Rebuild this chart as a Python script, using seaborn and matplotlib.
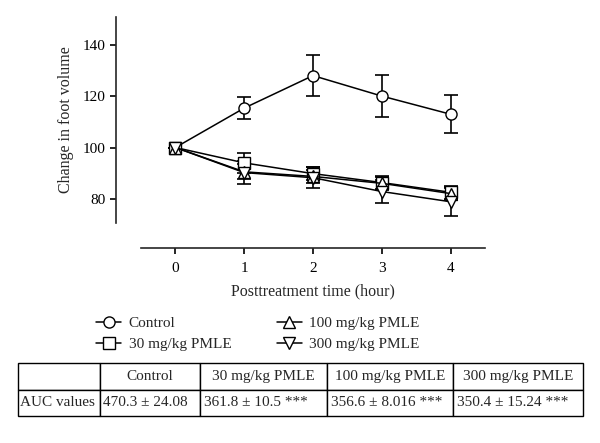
import numpy as np
import pandas as pd
import seaborn as sns
import matplotlib.pyplot as plt

sns.set_style('ticks')
plt.rcParams['font.family'] = ['Liberation Serif', 'DejaVu Serif']

# data
hours = [0, 1, 2, 3, 4]
groups = ['Control', '30 mg/kg PMLE', '100 mg/kg PMLE', '300 mg/kg PMLE']
control = [100, 115.4, 128.1, 120.1, 113.0]
control_sd = [0, 4.2, 8.1, 8.2, 7.4]
pmle30 = [100, 94.0, 89.8, 86.3, 82.5]
pmle30_sd = [0, 4.0, 2.5, 2.5, 2.5]
pmle100 = [100, 90.5, 88.7, 86.0, 82.0]
pmle100_sd = [0, 3.0, 2.5, 2.5, 2.5]
pmle300 = [100, 90.2, 88.2, 82.8, 78.8]
pmle300_sd = [0, 4.6, 4.0, 4.6, 5.5]
auc_cols = ['', 'Control', '30 mg/kg PMLE', '100 mg/kg PMLE', '300 mg/kg PMLE']
auc_row = ['AUC values', '470.3 \u00b1 24.08', '361.8 \u00b1 10.5 ***',
           '356.6 \u00b1 8.016 ***', '350.4 \u00b1 15.24 ***']

series = [control, pmle30, pmle100, pmle300]
errs = [control_sd, pmle30_sd, pmle100_sd, pmle300_sd]
markers = ['o', 's', '^', 'v']

df = pd.DataFrame({'hour': hours * 4,
                   'value': sum(series, []),
                   'group': sum([[g] * 5 for g in groups], [])})

fig = plt.figure(figsize=(6, 4.43), dpi=100)
ax = fig.add_axes([141/600, 1-223/443, 344/600, 206/443])

for g, m, y, e in zip(groups, markers, series, errs):
    ax.errorbar(hours, y, yerr=e, fmt='none', ecolor='black', elinewidth=1.2,
                capsize=5, capthick=1.2, zorder=2)
    sns.lineplot(data=df[df.group == g], x='hour', y='value', ax=ax, color='black',
                 marker=m, markersize=8, markerfacecolor='white', markeredgecolor='black',
                 markeredgewidth=1.0, linewidth=1.1, label=g, legend=False, zorder=3)

ax.set_xlim(-0.5, 4.5)
ax.set_ylim(70.5, 151)
ax.set_xticks(hours)
ax.set_yticks([80, 100, 120, 140])
ax.spines['top'].set_visible(False)
ax.spines['right'].set_visible(False)
# detached axes, ~25 px apart from the data area
ax.spines['left'].set_position(('outward', 18))
ax.spines['bottom'].set_position(('outward', 18))
for s in ['left', 'bottom']:
    ax.spines[s].set_linewidth(1.2)
ax.tick_params(width=1.2, length=4, labelsize=11, colors='black')
ax.tick_params(axis='x', pad=6)
ax.set_xlabel('Posttreatment time (hour)', fontsize=11.5, labelpad=6)
ax.set_ylabel('Change in foot volume', fontsize=11.5, labelpad=6)

handles, labels = ax.get_legend_handles_labels()
fig.legend(handles, labels, ncol=2, loc='upper center', bbox_to_anchor=(258/600, 1-303/443),
           frameon=False, fontsize=11, handlelength=1.6, columnspacing=3.0,
           labelspacing=0.45, handletextpad=0.5)

tax = fig.add_axes([18/600, 1-416/443, 565/600, 53/443])
tax.axis('off')
widths = np.array([82, 100, 127, 126, 130]) / 565
tbl = tax.table(cellText=[auc_cols, auc_row], cellLoc='center', colWidths=widths,
                bbox=[0, 0, 1, 1])
tbl.auto_set_font_size(False)
tbl.set_fontsize(11)
for (r, c), cell in tbl.get_celld().items():
    cell.set_linewidth(1.0)
    if r == 1:
        cell.set_text_props(ha='left')
        cell.PAD = 0.03

fig.savefig('out.png', dpi=100)
